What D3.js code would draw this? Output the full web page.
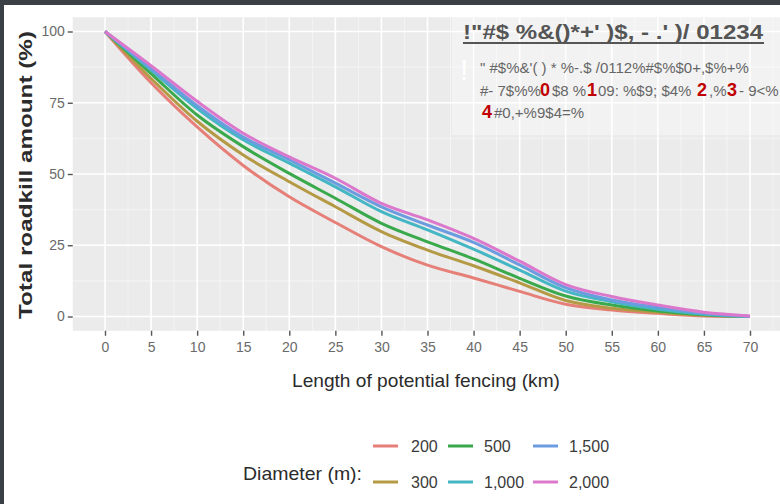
<!DOCTYPE html>
<html>
<head>
<meta charset="utf-8">
<script src="https://cdn.jsdelivr.net/npm/d3@7"></script>
<style>
  body { margin: 0; background: #fff; }
  svg { display: block; }
  .narrow { font-family: "Liberation Sans", Arial, sans-serif; }
</style>
</head>
<body>
<svg width="780" height="504"></svg>
<script>
// Data
const km = [0, 5, 10, 15, 20, 25, 30, 35, 40, 45, 50, 55, 60, 65, 70];
const d200 = [100, 82, 66.5, 53, 42, 33, 24.5, 18, 13.5, 8.8, 4.3, 2.3, 1.1, 0.2, 0];
const d300 = [100, 83.5, 68.5, 56.7, 47.3, 38.5, 29.8, 23.3, 17.8, 11.8, 5.6, 2.9, 1.5, 0.4, 0];
const d500 = [100, 85.2, 70.7, 59.6, 50.2, 41.5, 32.7, 26.2, 20.2, 13.4, 7.2, 4, 1.9, 0.6, 0];
const d1000 = [100, 86.5, 73, 62, 53.8, 45.5, 36.8, 30.4, 23.6, 16.3, 8.9, 5.2, 2.5, 0.8, 0];
const d1500 = [100, 87, 74, 63, 55, 46.8, 38.5, 32.1, 26, 18.1, 10.1, 5.8, 3.2, 1.1, 0];
const d2000 = [100, 88, 75.5, 64.3, 56, 48.5, 39.7, 33.9, 27.4, 19.4, 11.2, 7, 4, 1.5, 0.2];
const diameters = ['200', '300', '500', '1,000', '1,500', '2,000'];
const yTicks = [0, 25, 50, 75, 100];
const xTicks = d3.range(0, 75, 5);

const series = [d200, d300, d500, d1000, d1500, d2000];
const colors = ['#e57f78', '#b59a45', '#3aa94c', '#45b6c4', '#6c9ce0', '#dc78cb'];

const svg = d3.select('svg');

// frame of the screenshot
svg.append('rect').attr('x', 0).attr('y', 0).attr('width', 780).attr('height', 5).attr('fill', '#3b4047');
svg.append('rect').attr('x', 0).attr('y', 0).attr('width', 4).attr('height', 504).attr('fill', '#3b4047');

const x = d3.scaleLinear().domain([0, 70]).range([105, 750]);
const y = d3.scaleLinear().domain([0, 100]).range([316.5, 31.5]);

// panel
const px0 = x(-3.5), px1 = x(73.5), py0 = y(105), py1 = y(-5);
svg.append('rect')
    .attr('x', px0).attr('y', py0)
    .attr('width', px1 - px0).attr('height', py1 - py0)
    .attr('fill', '#ebebeb');

const grid = svg.append('g');
// minor grid
grid.selectAll('.vminor').data(d3.range(2.5, 75, 5)).join('line')
    .attr('x1', d => x(d)).attr('x2', d => x(d))
    .attr('y1', py0).attr('y2', py1)
    .attr('stroke', '#f6f6f6').attr('stroke-width', 0.8);
grid.selectAll('.hminor').data([12.5, 37.5, 62.5, 87.5]).join('line')
    .attr('x1', px0).attr('x2', px1)
    .attr('y1', d => y(d)).attr('y2', d => y(d))
    .attr('stroke', '#f6f6f6').attr('stroke-width', 0.8);
// major grid
grid.selectAll('.vmajor').data(xTicks).join('line')
    .attr('x1', d => x(d)).attr('x2', d => x(d))
    .attr('y1', py0).attr('y2', py1)
    .attr('stroke', '#fff').attr('stroke-width', 1.6);
grid.selectAll('.hmajor').data(yTicks).join('line')
    .attr('x1', px0).attr('x2', px1)
    .attr('y1', d => y(d)).attr('y2', d => y(d))
    .attr('stroke', '#fff').attr('stroke-width', 1.6);

// lines
const line = d3.line()
    .x((d, i) => x(km[i]))
    .y(d => y(d))
    .curve(d3.curveMonotoneX);

svg.append('g').selectAll('path').data(series).join('path')
    .attr('d', line)
    .attr('fill', 'none')
    .attr('stroke', (d, i) => colors[i])
    .attr('stroke-width', 3)
    .attr('stroke-linejoin', 'round');

// axes
const xAxis = svg.append('g')
    .attr('transform', `translate(0, ${py1})`)
    .call(d3.axisBottom(x).tickValues(xTicks).tickSize(5).tickPadding(6));
const yAxis = svg.append('g')
    .attr('transform', `translate(${px0}, 0)`)
    .call(d3.axisLeft(y).tickValues(yTicks).tickSize(5).tickPadding(3));
[xAxis, yAxis].forEach(a => {
  a.select('.domain').remove();
  a.selectAll('line').attr('stroke', '#555').attr('stroke-width', 1.4);
  a.selectAll('text')
      .attr('class', 'narrow')
      .attr('fill', '#6a6a6a')
      .style('font-size', '14px');
});

// axis titles
svg.append('text')
    .attr('class', 'narrow')
    .attr('x', 426).attr('y', 387)
    .attr('text-anchor', 'middle')
    .attr('fill', '#2b2b2b')
    .attr('textLength', 268).attr('lengthAdjust', 'spacingAndGlyphs')
    .style('font-size', '19px')
    .text('Length of potential fencing (km)');

svg.append('text')
    .attr('transform', 'translate(32, 175) rotate(-90)')
    .attr('text-anchor', 'middle')
    .attr('fill', '#2b2b2b')
    .attr('textLength', 288).attr('lengthAdjust', 'spacingAndGlyphs')
    .style('font-family', '"Liberation Sans", Arial, sans-serif')
    .style('font-size', '19px')
    .style('font-weight', 'bold')
    .text('Total roadkill amount (%)');

// legend
const legend = svg.append('g');
legend.append('text')
    .attr('class', 'narrow')
    .attr('x', 243).attr('y', 480)
    .attr('fill', '#2b2b2b')
    .attr('textLength', 119).attr('lengthAdjust', 'spacingAndGlyphs')
    .style('font-size', '19px')
    .text('Diameter (m):');

const keyX = [373, 448, 533];
const labX = [411, 484, 569];
const rowY = [446, 482];
diameters.forEach((d, i) => {
  const col = Math.floor(i / 2), row = i % 2;
  legend.append('line')
      .attr('x1', keyX[col]).attr('x2', keyX[col] + 25)
      .attr('y1', rowY[row]).attr('y2', rowY[row])
      .attr('stroke', colors[i]).attr('stroke-width', 3);
  legend.append('text')
      .attr('class', 'narrow')
      .attr('x', labX[col]).attr('y', rowY[row] + 6)
      .attr('fill', '#3a3a3a')
      .style('font-size', '16px')
      .text(d);
});

// garbled overlay text in the corner of the source picture
const over = svg.append('g');
over.append('rect')
    .attr('x', 452).attr('y', 12).attr('width', 328).attr('height', 123)
    .attr('fill', '#fff').attr('opacity', 0.35);
over.append('text')
    .attr('x', 463).attr('y', 39)
    .attr('fill', '#555')
    .attr('textLength', 300).attr('lengthAdjust', 'spacingAndGlyphs')
    .style('font-family', '"Liberation Sans", Arial, sans-serif')
    .style('font-size', '21px').style('font-weight', 'bold')
    .text('!"#$  %&()*+\' )$, - .\' )/ 01234');
over.append('line')
    .attr('x1', 463).attr('x2', 764).attr('y1', 43).attr('y2', 43)
    .attr('stroke', '#555').attr('stroke-width', 2);
over.append('text')
    .attr('x', 460).attr('y', 80)
    .attr('fill', '#fff')
    .style('font-family', '"Liberation Sans", Arial, sans-serif')
    .style('font-size', '30px')
    .text('!');

const small = (tx, ty, t, red) => over.append('text')
    .attr('x', tx).attr('y', ty)
    .attr('fill', red ? '#c00000' : '#666')
    .style('font-family', '"Liberation Sans", Arial, sans-serif')
    .style('font-size', red ? '18px' : '15px')
    .style('font-weight', red ? 'bold' : 'normal')
    .text(t);

small(480, 73, '" #$%&\'( ) * %-.$ /0112%#$%$0+,$%+%');

// second row: grey pieces with red digits placed where the picture has them
const row2 = [[480, '#- 7$%%', false], [540, '0', true], [552, '$8 %', false], [587, '1', true],
  [598, '09: %$9; $4%', false], [697, '2', true], [709, ',%', false], [727, '3', true], [739, '- 9<%', false]];
row2.forEach(p => small(p[0], 96, p[1], p[2]));

small(482, 118, '4', true);
small(494, 118, '#0,+%9$4=%');
</script>
</body>
</html>
